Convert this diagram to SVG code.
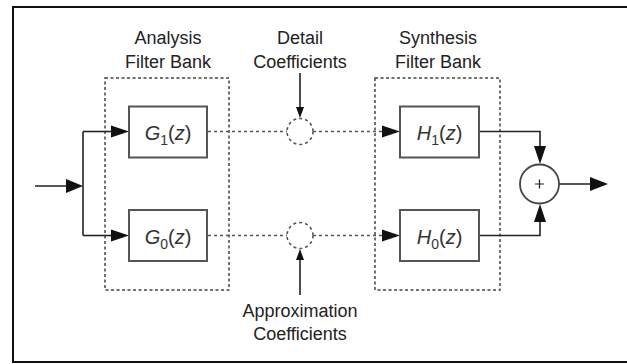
<svg xmlns="http://www.w3.org/2000/svg" width="627" height="364" viewBox="0 0 627 364">
<style>
  .lbl{font-family:"Liberation Sans",Arial,sans-serif;font-size:18px;fill:#222;text-anchor:middle}
  .fn{font-family:"Liberation Sans",Arial,sans-serif;font-size:20px;fill:#333;text-anchor:middle}
  .box{fill:#fff;stroke:#555;stroke-width:2}
  .bank{fill:none;stroke:#444;stroke-width:1.5;stroke-dasharray:3 2.5}
  .wire{fill:none;stroke:#222;stroke-width:1.6}
  .dash{fill:none;stroke:#555;stroke-width:1.6;stroke-dasharray:3 3}
  .head{fill:#111}
</style>
<rect x="13" y="7" width="630" height="355" fill="#fff" stroke="#111" stroke-width="2"/>

<g id="analysis-bank">
  <rect class="bank" x="105" y="78" width="124" height="212"/>
  <text class="lbl" x="168" y="44">Analysis</text>
  <text class="lbl" x="168" y="68">Filter Bank</text>
</g>
<g id="synthesis-bank">
  <rect class="bank" x="375" y="78" width="125" height="212"/>
  <text class="lbl" x="438" y="44">Synthesis</text>
  <text class="lbl" x="438" y="68">Filter Bank</text>
</g>
<g id="detail-label">
  <text class="lbl" x="300" y="44">Detail</text>
  <text class="lbl" x="300" y="68">Coefficients</text>
</g>
<g id="approx-label">
  <text class="lbl" x="300" y="317">Approximation</text>
  <text class="lbl" x="300" y="340">Coefficients</text>
</g>

<g id="connectors">
  <!-- input -->
  <path class="wire" d="M35 186 H70"/>
  <path class="head" d="M66 179 L83 186 L66 193 Z"/>
  <path class="wire" d="M83 131.5 V235.5"/>
  <path class="wire" d="M83 131.5 H115"/>
  <path class="head" d="M111 125.5 L129 131.5 L111 137.5 Z"/>
  <path class="wire" d="M83 235.5 H115"/>
  <path class="head" d="M111 229.5 L129 235.5 L111 241.5 Z"/>
  <!-- dashed coefficient paths -->
  <path class="dash" d="M208 131.5 H287"/>
  <path class="dash" d="M313 131.5 H384"/>
  <path class="head" d="M382 125.5 L400 131.5 L382 137.5 Z"/>
  <path class="dash" d="M208 235.5 H287"/>
  <path class="dash" d="M313 235.5 H384"/>
  <path class="head" d="M382 229.5 L400 235.5 L382 241.5 Z"/>
  <!-- detail / approx arrows -->
  <path class="wire" d="M300 73 V110"/>
  <path class="head" d="M296 107 L300 118 L304 107 Z"/>
  <path class="wire" d="M300 295 V258"/>
  <path class="head" d="M296 260 L300 249 L304 260 Z"/>
  <!-- synthesis outputs -->
  <path class="wire" d="M479 131.5 H540 V150"/>
  <path class="head" d="M534 146 L540 164 L546 146 Z"/>
  <path class="wire" d="M479 235.5 H540 V218"/>
  <path class="head" d="M534 222 L540 204 L546 222 Z"/>
  <!-- output -->
  <path class="wire" d="M559 184 H594"/>
  <path class="head" d="M590 177 L608 184 L590 191 Z"/>
</g>

<g id="G1">
  <rect class="box" x="129" y="106.5" width="78" height="51"/>
  <text class="fn" x="168" y="140"><tspan font-style="italic">G</tspan><tspan font-size="14" dy="5">1</tspan><tspan dy="-5">(</tspan><tspan font-style="italic">z</tspan>)</text>
</g>
<g id="G0">
  <rect class="box" x="129" y="210" width="78" height="51"/>
  <text class="fn" x="168" y="244"><tspan font-style="italic">G</tspan><tspan font-size="14" dy="5">0</tspan><tspan dy="-5">(</tspan><tspan font-style="italic">z</tspan>)</text>
</g>
<g id="H1">
  <rect class="box" x="400" y="106.5" width="79" height="51"/>
  <text class="fn" x="439.5" y="140"><tspan font-style="italic">H</tspan><tspan font-size="14" dy="5">1</tspan><tspan dy="-5">(</tspan><tspan font-style="italic">z</tspan>)</text>
</g>
<g id="H0">
  <rect class="box" x="400" y="210" width="79" height="51"/>
  <text class="fn" x="439.5" y="244"><tspan font-style="italic">H</tspan><tspan font-size="14" dy="5">0</tspan><tspan dy="-5">(</tspan><tspan font-style="italic">z</tspan>)</text>
</g>
<g id="detail-node">
  <circle cx="300" cy="131.5" r="13" fill="none" stroke="#555" stroke-width="1.6" stroke-dasharray="3 3"/>
</g>
<g id="approx-node">
  <circle cx="300" cy="235.5" r="13" fill="none" stroke="#555" stroke-width="1.6" stroke-dasharray="3 3"/>
</g>
<g id="sum">
  <circle cx="539.5" cy="184" r="19.5" fill="#fff" stroke="#444" stroke-width="1.8"/>
  <path d="M535 184 H544 M539.5 179.5 V188.5" stroke="#222" stroke-width="1.2"/>
</g>
</svg>
